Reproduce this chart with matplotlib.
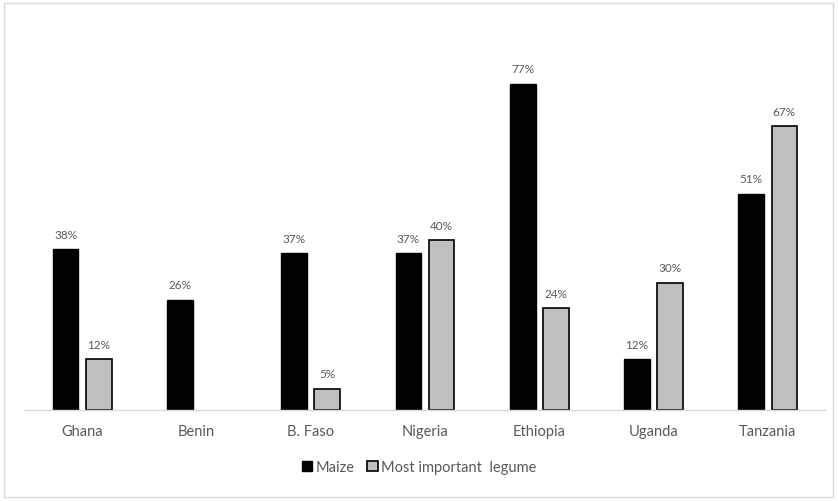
import matplotlib
matplotlib.use("Agg")
import matplotlib.pyplot as plt
from matplotlib.patches import Rectangle
import numpy as np

countries = ["Ghana", "Benin", "B. Faso", "Nigeria", "Ethiopia", "Uganda", "Tanzania"]
maize = [38, 26, 37, 37, 77, 12, 51]
legume = [12, None, 5, 40, 24, 30, 67]

plt.rcParams["font.family"] = ["Lato", "DejaVu Sans"]
text_col = "#595959"

fig = plt.figure(figsize=(8.38, 5.02), dpi=100)
fig.patches.append(Rectangle((0.005, 0.008), 0.989, 0.985, transform=fig.transFigure,
                             fill=False, edgecolor="#d9d9d9", linewidth=1.0))

W, H = 838, 502
left, right, bottom, top = 25, 825, 411, 40
ax = fig.add_axes([left / W, 1 - bottom / H, (right - left) / W, (bottom - top) / H])

x = np.arange(len(countries))
bw = 0.225
off = 0.145

m_bars = ax.bar(x - off, maize, width=bw, color="black", edgecolor="black", linewidth=1.0,
                label="Maize", zorder=3)
lx = [xi + off for xi, v in zip(x, legume) if v is not None]
lv = [v for v in legume if v is not None]
l_bars = ax.bar(lx, lv, width=bw, color="#bfbfbf", edgecolor="black", linewidth=1.2,
                label="Most important  legume", zorder=3)

for xi, v in zip(x - off, maize):
    ax.text(xi, v + 2.2, f"{v}%", ha="center", va="bottom", fontsize=8.5, color=text_col)
for xi, v in zip(lx, lv):
    ax.text(xi, v + 2.2, f"{v}%", ha="center", va="bottom", fontsize=8.5, color=text_col)

ax.set_xlim(-0.5, len(countries) - 0.5)
ax.set_ylim(0, 87.5)
ax.set_xticks(x)
ax.set_xticklabels(countries, fontsize=10.5, color=text_col)
ax.tick_params(axis="x", length=0, pad=10)
ax.set_yticks([])
for s in ["top", "right", "left"]:
    ax.spines[s].set_visible(False)
ax.spines["bottom"].set_color("#d9d9d9")
ax.spines["bottom"].set_linewidth(1.0)
ax.spines["bottom"].set_zorder(4)

leg = fig.legend(handles=[m_bars, l_bars], labels=["Maize", "Most important  legume"],
                 loc="center", bbox_to_anchor=(419 / W, 1 - 468 / H), ncol=2, frameon=False,
                 fontsize=10.5, handlelength=0.7, handleheight=0.7, handletextpad=0.2,
                 columnspacing=0.9)
for t in leg.get_texts():
    t.set_color(text_col)

fig.savefig("out.png", dpi=100)
